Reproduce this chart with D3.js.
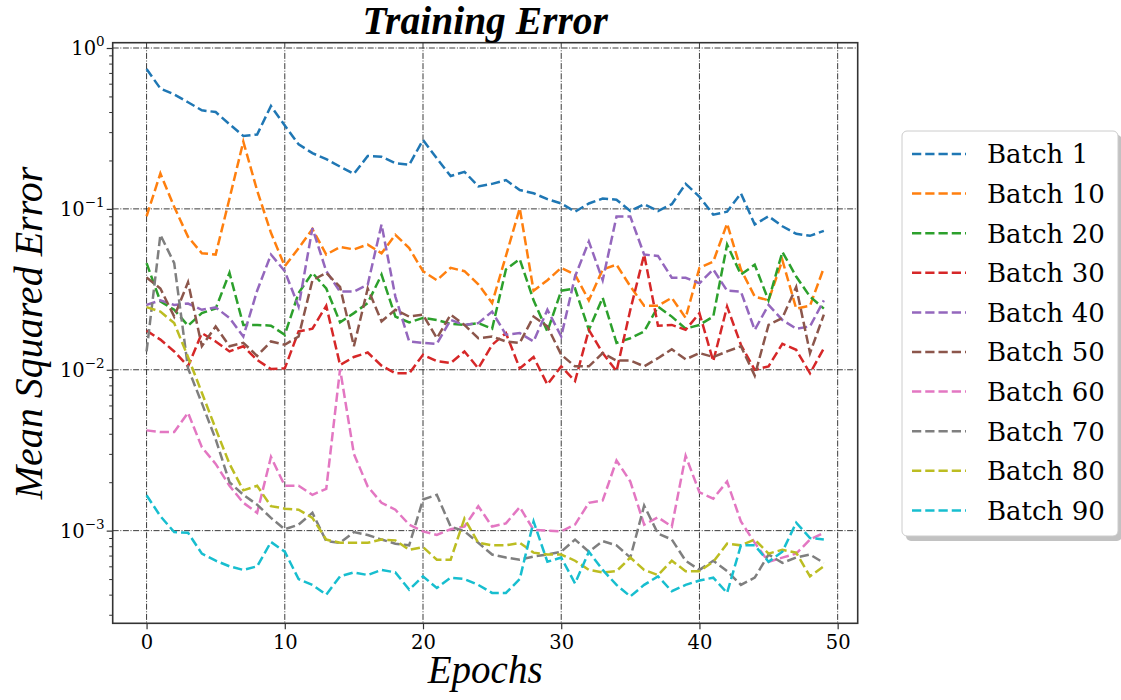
<!DOCTYPE html>
<html>
<head>
<meta charset="utf-8">
<script src="https://cdn.jsdelivr.net/npm/d3@7"></script>
<style>
  body { margin: 0; background: #fff; }
  svg { display: block; }
</style>
</head>
<body>
<svg id="chart" width="1121" height="700"></svg>
<script>
// epochs 0..49
var epochs = d3.range(0, 50);

var batch1 = [0.74,0.56,0.515,0.46,0.41,0.40,0.336,0.284,0.29,0.436,0.33,0.252,0.222,0.204,0.183,0.165,0.213,0.211,0.192,0.188,
  0.268,0.206,0.16,0.17,0.138,0.143,0.151,0.131,0.125,0.115,0.108,0.096,0.108,0.116,0.114,0.097,0.107,0.097,0.107,0.143,
  0.119,0.092,0.096,0.125,0.08,0.09,0.078,0.07,0.068,0.073];
var batch10 = [0.09,0.166,0.103,0.067,0.053,0.052,0.116,0.262,0.13,0.071,0.044,0.057,0.075,0.052,0.058,0.056,0.060,0.053,0.069,0.057,
  0.041,0.036,0.043,0.041,0.034,0.026,0.051,0.101,0.031,0.036,0.043,0.039,0.027,0.042,0.045,0.033,0.025,0.025,0.028,0.021,
  0.043,0.047,0.081,0.042,0.0285,0.027,0.048,0.024,0.025,0.043];
var batch20 = [0.046,0.0266,0.0236,0.0188,0.0225,0.024,0.040,0.019,0.019,0.0188,0.0165,0.030,0.040,0.032,0.0197,0.0225,0.026,0.039,0.0214,0.0197,
  0.021,0.0204,0.0193,0.019,0.0195,0.018,0.042,0.0487,0.027,0.0173,0.031,0.032,0.0177,0.028,0.0147,0.0157,0.0173,0.0247,0.0214,0.018,
  0.019,0.0214,0.060,0.039,0.045,0.027,0.054,0.038,0.0285,0.024];
var batch30 = [0.0175,0.0154,0.013,0.0105,0.0169,0.015,0.013,0.014,0.0115,0.0101,0.0102,0.0173,0.018,0.025,0.0107,0.012,0.0128,0.0106,0.0095,0.0095,
  0.0124,0.0113,0.011,0.013,0.0102,0.0143,0.0169,0.0102,0.012,0.0081,0.0105,0.0085,0.0177,0.0127,0.0098,0.0236,0.052,0.0188,0.019,0.0177,
  0.0225,0.0113,0.0247,0.0143,0.010,0.0105,0.0145,0.0133,0.0095,0.0136];
var batch40 = [0.0253,0.027,0.0253,0.0258,0.0236,0.0244,0.021,0.0161,0.031,0.052,0.041,0.0247,0.076,0.041,0.0306,0.0306,0.0338,0.080,0.0285,0.015,
  0.0147,0.0145,0.0204,0.019,0.0195,0.023,0.0165,0.0169,0.015,0.0236,0.0161,0.038,0.0627,0.036,0.0896,0.0896,0.052,0.051,0.0373,0.0373,
  0.0345,0.042,0.031,0.0306,0.0177,0.0253,0.0204,0.018,0.0186,0.027];
var batch50 = [0.0374,0.032,0.0214,0.035,0.014,0.0186,0.014,0.0147,0.0122,0.015,0.0143,0.0161,0.036,0.040,0.0327,0.014,0.032,0.020,0.0236,0.0214,
  0.022,0.0157,0.022,0.019,0.0157,0.0161,0.015,0.0147,0.0214,0.0186,0.0124,0.0105,0.0105,0.0127,0.0114,0.0114,0.0105,0.0118,0.0134,0.0116,
  0.0127,0.012,0.013,0.014,0.0092,0.019,0.021,0.0327,0.0127,0.022];
var batch60 = [0.0042,0.0041,0.0041,0.0054,0.0033,0.0026,0.0019,0.00149,0.00129,0.00287,0.0019,0.0019,0.00167,0.00182,0.0101,0.003,0.00188,0.00149,0.00135,0.00109,
  0.00099,0.00094,0.00102,0.00106,0.00142,0.00106,0.00111,0.0014,0.00101,0.001,0.00099,0.00109,0.00149,0.00154,0.00273,0.00202,0.00109,0.00121,0.00106,0.00292,
  0.00173,0.00158,0.00202,0.00114,0.00084,0.00064,0.00068,0.00072,0.00088,0.00097];
var batch70 = [0.013,0.069,0.046,0.0102,0.0062,0.0037,0.0020,0.00167,0.00145,0.0012,0.00102,0.00109,0.00129,0.00086,0.00084,0.00098,0.00094,0.00088,0.00083,0.00081,
  0.00156,0.00167,0.00106,0.00099,0.00084,0.00071,0.00068,0.00066,0.00069,0.00071,0.00074,0.00088,0.00074,0.00086,0.00081,0.00068,0.00143,0.00096,0.00088,0.00065,
  0.00057,0.00065,0.00056,0.00046,0.00051,0.00071,0.00063,0.00068,0.00071,0.00063];
var batch80 = [0.0245,0.023,0.0195,0.012,0.0072,0.0043,0.0026,0.00178,0.0019,0.00142,0.00137,0.00135,0.0012,0.00088,0.00084,0.00084,0.00084,0.00088,0.00087,0.00076,
  0.00079,0.00066,0.00066,0.00119,0.00084,0.00081,0.00081,0.00084,0.00073,0.00071,0.00071,0.00065,0.00057,0.00055,0.00056,0.00068,0.00057,0.00053,0.00065,0.00056,
  0.00056,0.00064,0.00083,0.00081,0.00088,0.00072,0.00076,0.00073,0.00052,0.0006];
var batch90 = [0.00166,0.00123,0.00098,0.00097,0.00072,0.00065,0.0006,0.00057,0.0006,0.00085,0.00074,0.0005,0.00046,0.0004,0.00052,0.00055,0.00053,0.00057,0.00055,0.00043,
  0.00052,0.00044,0.00051,0.0005,0.00046,0.00041,0.00041,0.0005,0.00114,0.00064,0.00068,0.00047,0.00074,0.00057,0.00046,0.00039,0.00046,0.00052,0.00042,0.00046,
  0.00049,0.00051,0.00041,0.00081,0.00081,0.00064,0.00074,0.00112,0.0009,0.00088];

var seriesNames = ["Batch 1","Batch 10","Batch 20","Batch 30","Batch 40","Batch 50","Batch 60","Batch 70","Batch 80","Batch 90"];
var seriesValues = [batch1,batch10,batch20,batch30,batch40,batch50,batch60,batch70,batch80,batch90];
var colors = ["#1f77b4","#ff7f0e","#2ca02c","#d62728","#9467bd","#8c564b","#e377c2","#7f7f7f","#bcbd22","#17becf"];
var xTicks = [0,10,20,30,40,50];
var yTicks = [1,0.1,0.01,0.001];
var yTickExp = ["0","\u22121","\u22122","\u22123"];

var svg = d3.select("#chart"),
    pLeft = 112.7, pRight = 857.7, pTop = 42.7, pBottom = 623.3;

var x = d3.scaleLinear().domain([-2.45, 51.45]).range([pLeft, pRight]);
var y = d3.scaleLog().domain([Math.pow(10,-3.576), Math.pow(10,0.033)]).range([pBottom, pTop]);

// grid
var grid = svg.append("g").attr("stroke","#000").attr("stroke-width",0.9)
  .attr("stroke-dasharray","6,1.6,1,1.6").attr("opacity",0.85);
xTicks.forEach(function(t){
  grid.append("line").attr("x1",x(t)).attr("x2",x(t)).attr("y1",pTop).attr("y2",pBottom);
});
yTicks.forEach(function(t){
  grid.append("line").attr("x1",pLeft).attr("x2",pRight).attr("y1",y(t)).attr("y2",y(t));
});

// lines
var line = d3.line().x(function(d,i){return x(epochs[i]);}).y(function(d){return y(d);});
var plot = svg.append("g");
seriesValues.forEach(function(vals,k){
  plot.append("path").datum(vals).attr("d",line)
    .attr("fill","none").attr("stroke",colors[k]).attr("stroke-width",2.5)
    .attr("stroke-dasharray","9.25,4");
});

// frame
svg.append("rect").attr("x",pLeft).attr("y",pTop).attr("width",pRight-pLeft).attr("height",pBottom-pTop)
  .attr("fill","none").attr("stroke","#333").attr("stroke-width",1.6);

// x axis
var xAxis = d3.axisBottom(x).tickValues(xTicks).tickSize(6).tickPadding(6);
var gx = svg.append("g").attr("transform","translate(0,"+pBottom+")").call(xAxis);
gx.select(".domain").remove();
gx.selectAll("line").attr("stroke","#333").attr("stroke-width",1.2);
gx.selectAll("text").attr("font-family","DejaVu Serif").attr("font-size",19.5).attr("fill","#000");

// y axis (log) major + minor ticks
var minor = [];
for (var e = -4; e <= 0; e++) {
  for (var m = 2; m <= 9; m++) {
    var v = m * Math.pow(10, e);
    if (v >= y.domain()[0] && v <= y.domain()[1]) minor.push(v);
  }
}
var gyMinor = svg.append("g").attr("transform","translate("+pLeft+",0)")
  .call(d3.axisLeft(y).tickValues(minor).tickSize(3.5).tickFormat(""));
gyMinor.select(".domain").remove();
gyMinor.selectAll("line").attr("stroke","#333").attr("stroke-width",1);

var gy = svg.append("g").attr("transform","translate("+pLeft+",0)")
  .call(d3.axisLeft(y).tickValues(yTicks).tickSize(6).tickFormat(""));
gy.select(".domain").remove();
gy.selectAll("line").attr("stroke","#333").attr("stroke-width",1.2);
yTicks.forEach(function(t,i){
  var txt = svg.append("text").attr("x",pLeft-8).attr("y",y(t)+7)
    .attr("text-anchor","end").attr("font-family","DejaVu Serif").attr("font-size",19.5).attr("fill","#000");
  txt.append("tspan").text("10");
  txt.append("tspan").attr("dy",-9).attr("font-size",13.5).text(yTickExp[i]);
});

// titles
svg.append("text").attr("x",(pLeft+pRight)/2).attr("y",34).attr("text-anchor","middle")
  .attr("font-family","Liberation Serif").attr("font-weight","bold").attr("font-style","italic")
  .attr("font-size",39.5).text("Training Error");
svg.append("text").attr("x",(pLeft+pRight)/2).attr("y",683).attr("text-anchor","middle")
  .attr("font-family","Liberation Serif").attr("font-style","italic")
  .attr("font-size",39).text("Epochs");
svg.append("text").attr("transform","translate(42,"+((pTop+pBottom)/2)+") rotate(-90)")
  .attr("text-anchor","middle").attr("font-family","Liberation Serif").attr("font-style","italic")
  .attr("font-size",40).text("Mean Squared Error");

// legend
var lg = svg.append("g");
lg.append("rect").attr("x",906).attr("y",135).attr("width",216).attr("height",406).attr("rx",5)
  .attr("fill","#999").attr("opacity",0.6);
lg.append("rect").attr("x",902).attr("y",131).attr("width",216).attr("height",405).attr("rx",5)
  .attr("fill","#fff").attr("stroke","#ccc").attr("stroke-width",1);
seriesNames.forEach(function(name,k){
  var cy = 154 + 39.6*k;
  lg.append("line").attr("x1",912).attr("x2",966).attr("y1",cy).attr("y2",cy)
    .attr("stroke",colors[k]).attr("stroke-width",2.5).attr("stroke-dasharray","9.25,4");
  lg.append("text").attr("x",987).attr("y",cy).attr("dy","0.36em")
    .attr("font-family","DejaVu Serif").attr("font-size",26).attr("fill","#000").text(name);
});
</script>
</body>
</html>
